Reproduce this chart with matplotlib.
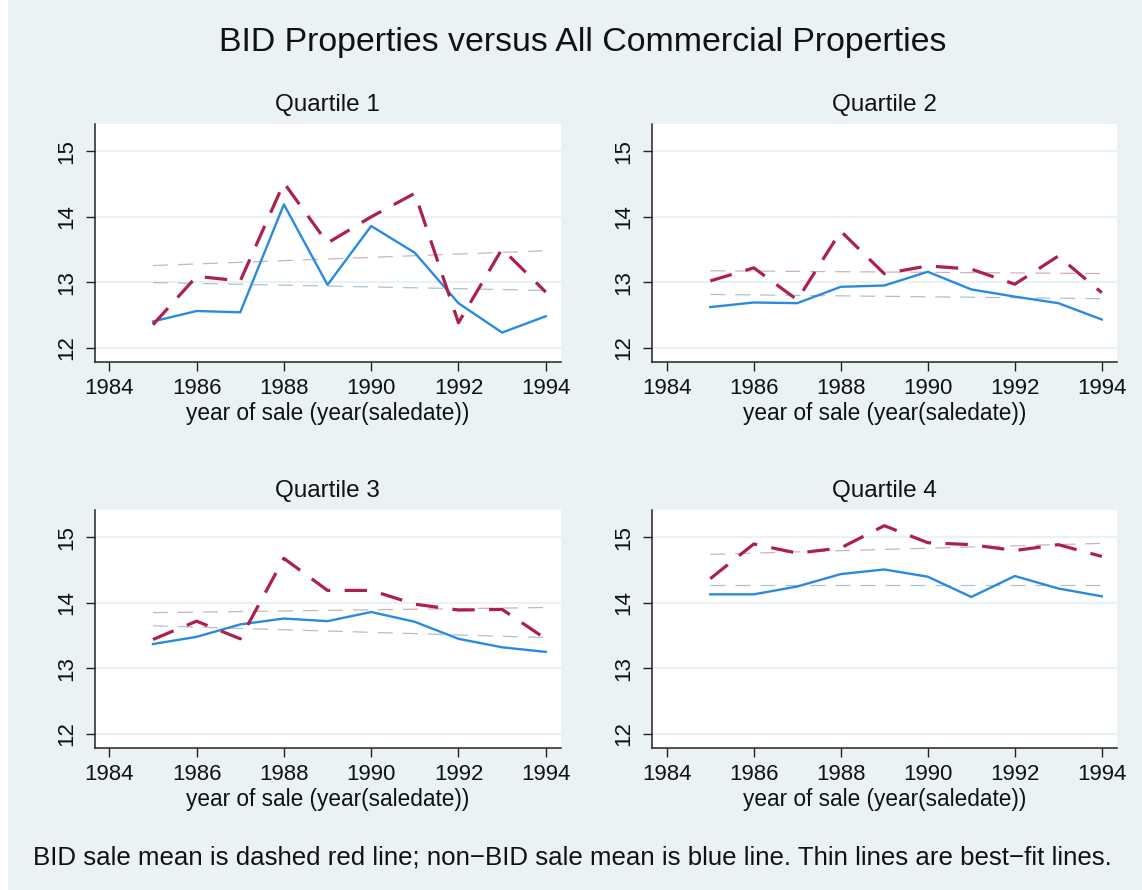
import numpy as np
import matplotlib
matplotlib.use("Agg")
import matplotlib.pyplot as plt
from matplotlib.patches import Rectangle

plt.rcParams['font.family'] = ['Liberation Sans', 'DejaVu Sans']

# -------------------------------
# Data (log sale price means by year)
# -------------------------------
years = [1985, 1986, 1987, 1988, 1989, 1990, 1991, 1992, 1993, 1994]
quartile_titles = ["Quartile 1", "Quartile 2", "Quartile 3", "Quartile 4"]

bid_q1 = [12.35, 13.09, 13.02, 14.52, 13.60, 14.00, 14.36, 12.38, 13.51, 12.85]
non_q1 = [12.40, 12.56, 12.54, 14.19, 12.96, 13.86, 13.45, 12.68, 12.23, 12.48]

bid_q2 = [13.02, 13.22, 12.73, 13.78, 13.13, 13.25, 13.20, 12.97, 13.40, 12.84]
non_q2 = [12.62, 12.69, 12.68, 12.93, 12.95, 13.16, 12.89, 12.78, 12.68, 12.43]

bid_q3 = [13.44, 13.72, 13.45, 14.68, 14.19, 14.19, 13.98, 13.89, 13.90, 13.45]
non_q3 = [13.37, 13.48, 13.67, 13.76, 13.72, 13.86, 13.71, 13.45, 13.32, 13.25]

bid_q4 = [14.37, 14.90, 14.76, 14.84, 15.18, 14.92, 14.89, 14.80, 14.89, 14.71]
non_q4 = [14.13, 14.13, 14.25, 14.44, 14.51, 14.40, 14.09, 14.41, 14.22, 14.10]

bid_series = [bid_q1, bid_q2, bid_q3, bid_q4]
non_series = [non_q1, non_q2, non_q3, non_q4]

x_ticks = [1984, 1986, 1988, 1990, 1992, 1994]
y_ticks = [12, 13, 14, 15]

# -------------------------------
# Figure setup (pixel-based layout)
# -------------------------------
W, H = 1142, 890
bg = "#eaf2f3"
red = "#ad1f4c"
blue = "#2a8ae0"

fig = plt.figure(figsize=(W / 100, H / 100), dpi=100, facecolor="white")
fig.patches.append(Rectangle((8 / W, 0), 1 - 8 / W, 1, transform=fig.transFigure,
                             facecolor=bg, edgecolor="none", zorder=-10))

# left, top, right, bottom in pixels
boxes = [(94.5, 124, 561, 362), (652, 124, 1117, 362),
         (94.5, 510, 561, 748), (652, 510, 1117, 748)]

for i, (l, t, r, b) in enumerate(boxes):
    ax = fig.add_axes([l / W, 1 - b / H, (r - l) / W, (b - t) / H])
    ax.set_facecolor("white")
    x = np.array(years)
    bid = np.array(bid_series[i])
    non = np.array(non_series[i])

    # best-fit lines
    for y, c in [(bid, "#ccb3bb"), (non, "#b0c0cc")]:
        k, m = np.polyfit(x, y, 1)
        ax.plot(x, k * x + m, color=c, lw=0.9, dashes=(12, 8), zorder=2)

    ax.plot(x, non, color=blue, lw=1.7, zorder=3)
    ax.plot(x, bid, color=red, lw=2.3, dashes=(7, 4.5), zorder=4)

    ax.set_xlim(1983.66, 1994.35)
    ax.set_ylim(11.78, 15.42)
    ax.set_xticks(x_ticks)
    ax.set_yticks(y_ticks)
    ax.set_yticklabels([str(v) for v in y_ticks], rotation=90, va="center")
    ax.grid(axis="y", color=bg, lw=1.6)
    ax.set_axisbelow(True)
    for s in ["top", "right"]:
        ax.spines[s].set_visible(False)
    for s in ["left", "bottom"]:
        ax.spines[s].set_color("#222222")
        ax.spines[s].set_linewidth(1.1)
    ax.tick_params(axis="both", length=6.5, width=1.0, color="#222222",
                   labelsize=16, labelcolor="#111111")
    ax.tick_params(axis="x", pad=5)
    ax.tick_params(axis="y", pad=6)
    ax.set_xlabel("year of sale (year(saledate))", fontsize=16.3, color="#111111", labelpad=2)
    ax.set_title(quartile_titles[i], fontsize=17.5, color="#111111", pad=9)

fig.text(583 / W, 1 - 42 / H, "BID Properties versus All Commercial Properties",
         ha="center", va="center", fontsize=24.4, color="#111111")
fig.text(33 / W, 1 - 857 / H,
         "BID sale mean is dashed red line; non\u2212BID sale mean is blue line. "
         "Thin lines are best\u2212fit lines.",
         ha="left", va="center", fontsize=18.6, color="#111111")

fig.savefig("out.png", dpi=100, facecolor=fig.get_facecolor())
